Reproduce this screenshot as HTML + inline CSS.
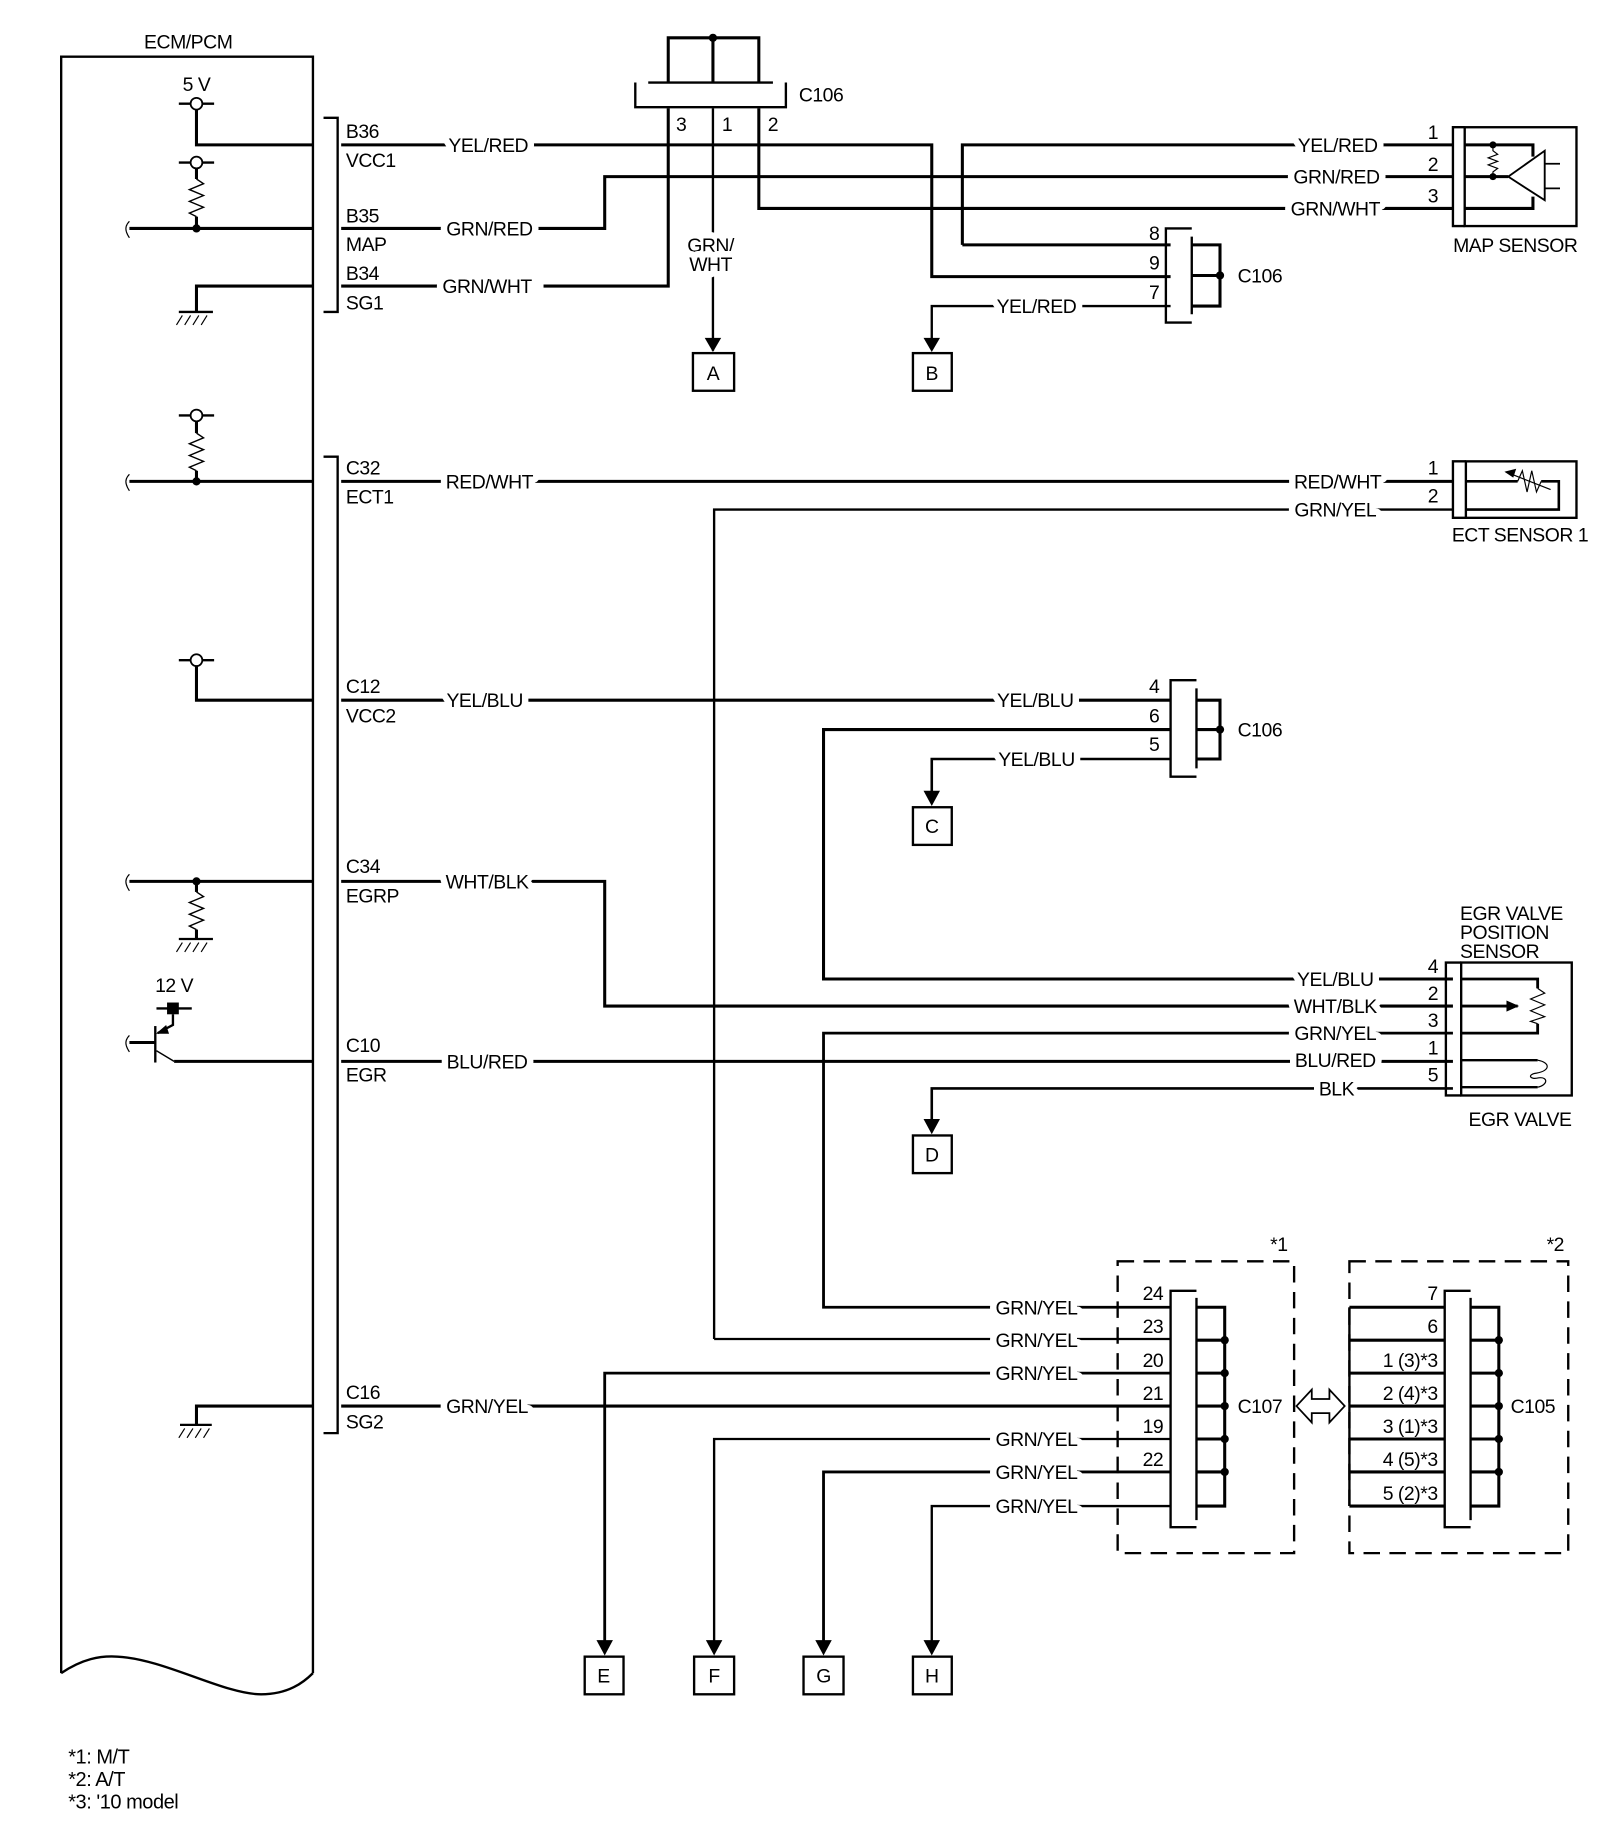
<!DOCTYPE html>
<html><head><meta charset="utf-8"><style>
html,body{margin:0;padding:0;background:#fff;}
svg{display:block;}
text{font-family:"Liberation Sans",Arial,sans-serif;font-size:16.5px;fill:#000;letter-spacing:-0.4px;}
.w{paint-order:stroke;stroke:#fff;stroke-width:11px;stroke-linejoin:round;}
.m{text-anchor:middle;}
.e{text-anchor:end;}
</style></head><body>
<svg width="1600" height="1838" viewBox="0 0 1360 1562" xmlns="http://www.w3.org/2000/svg">
<g fill="none" stroke="#000" stroke-width="2.6">
<path d="M52 1422 V48 H266 V1422" stroke-width="2"/>
<path d="M52 1422 C70 1410 85 1407 100 1408 C140 1410 190 1440 222 1440 C245 1440 258 1430 266 1422" stroke-width="2"/>
<path d="M275 100 H287 V265 H275" stroke-width="2"/>
<path d="M275 388 H287 V1218 H275" stroke-width="2"/>

<path d="M152 88 H162 M172 88 H182" stroke-width="2"/>
<path d="M167 93 V123 H266"/>
<path d="M152 138 H162 M172 138 H182" stroke-width="2"/>
<path d="M167 143 V152"/>
<polyline points="167,152 173,156 161,161 173,166 161,171 173,176 161,181 167,184" stroke-width="1.2"/>
<path d="M167 184 V194"/>
<path d="M110 194 H266"/>
<path d="M110 188 C106 192 106 196 110 202" stroke-width="1"/>
<path d="M167 265 V243 H266"/>
<path d="M152 265 H181" stroke-width="2"/>
<path d="M155 268 L150 276 M162 268 L157 276 M169 268 L164 276 M176 268 L171 276" stroke-width="1"/>

<path d="M568 70 V32 H645 V70 M606 32 V70" stroke-width="2.6"/>
<path d="M551 70 H657" stroke-width="2"/>
<path d="M540 70 V91 H668 V70" stroke-width="2"/>
<path d="M568 92 V243 H462 M372 243 H290"/>
<path d="M606 92 V298" stroke-width="2"/>
<path d="M645 92 V177 H1235"/>
<path d="M290 123 H792 V235 H995"/>
<path d="M818 208 V123 H1235"/>
<path d="M818 208 H995"/>
<path d="M290 194 H514 V150 H1235"/>
<path d="M995 260 H792 V290" stroke-width="2"/>
<path d="M1013 194 H991 V274 H1013" stroke-width="2"/>
<path d="M1013 201 V267" stroke-width="2"/>
<path d="M1013 208 H1037 V260 H1013 M1013 234 H1037"/>
<rect x="589" y="300" width="35" height="32" stroke-width="2"/>
<rect x="776" y="300" width="33" height="32" stroke-width="2"/>

<path d="M1245 108 H1235 V192 H1245" stroke-width="2"/>
<rect x="1245" y="108" width="95" height="84" stroke-width="2"/>
<path d="M1245 123 H1303 V133 M1245 177 H1303 V167 M1245 150 H1282"/>
<path d="M1282 150 L1313 128 V170 Z" stroke-width="1.6"/>
<path d="M1313 139 H1326 M1313 160 H1326" stroke-width="1.5"/>
<polyline points="1269,123 1269,128 1273,131 1265,134 1273,137 1265,140 1273,143 1269,146 1269,150" stroke-width="1"/>

<path d="M152 353 H162 M172 353 H182" stroke-width="2"/>
<path d="M167 358 V368"/>
<polyline points="167,368 173,372 161,377 173,382 161,387 173,392 161,397 167,400" stroke-width="1.2"/>
<path d="M167 400 V409"/>
<path d="M110 409 H266 M290 409 H1235"/>
<path d="M110 403 C106 407 106 411 110 417" stroke-width="1"/>
<path d="M607 1138 V433 H1235" stroke-width="2"/>
<path d="M1246 392 H1235 V440 H1246" stroke-width="2"/>
<rect x="1246" y="392" width="94" height="48" stroke-width="2"/>
<path d="M1246 409 H1290 M1310 409 H1325 V433 H1246" stroke-width="2.2"/>
<polyline points="1290,409 1294,400 1298,418 1302,400 1306,418 1310,409" stroke-width="1"/>
<path d="M1280 401 L1318 416" stroke-width="1"/>
<path d="M1280 401 L1288 399 L1286 405 Z" fill="#000" stroke-width="1"/>

<path d="M152 561 H162 M172 561 H182" stroke-width="2"/>
<path d="M167 566 V595 H266 M290 595 H995"/>
<path d="M995 620 H700 V832 H1235" stroke-width="2.6"/>
<path d="M995 645 H792 V677" stroke-width="2.2"/>
<path d="M1017 578 H995 V660 H1017" stroke-width="2"/>
<path d="M1017 585 V653" stroke-width="2"/>
<path d="M1017 595 H1037 V645 H1017 M1017 620 H1037"/>
<rect x="776" y="686" width="33" height="32" stroke-width="2"/>

<path d="M110 749 H266 M290 749 H514 V855 H1235"/>
<path d="M110 743 C106 747 106 751 110 757" stroke-width="1"/>
<path d="M167 749 V758"/>
<polyline points="167,758 173,762 161,767 173,772 161,777 173,782 161,787 167,790" stroke-width="1.2"/>
<path d="M167 790 V798"/>
<path d="M152 798 H181" stroke-width="2"/>
<path d="M155 801 L150 809 M162 801 L157 809 M169 801 L164 809 M176 801 L171 809" stroke-width="1"/>

<path d="M133 857 H163" stroke-width="2"/>
<rect x="142" y="852" width="10" height="10" fill="#000" stroke="none"/>
<path d="M147 862 V871 L134 878" stroke-width="2"/>
<path d="M134 878 L141 872 L143 878 Z" fill="#000" stroke-width="1"/>
<path d="M132 872 V903" stroke-width="2"/>
<path d="M110 886 H132"/>
<path d="M110 880 C106 884 106 888 110 894" stroke-width="1"/>
<path d="M133 893 L148 902" stroke-width="1.2"/>
<path d="M148 902 H266 M290 902 H1235"/>
<path d="M1235 878 H700 V1111 H995" stroke-width="2.4"/>
<path d="M1235 925 H792 V957" stroke-width="2.2"/>
<rect x="776" y="965" width="33" height="32" stroke-width="2"/>
<path d="M1242 818 H1229 V931 H1242" stroke-width="2"/>
<rect x="1242" y="818" width="94" height="113" stroke-width="2"/>
<path d="M1242 832 H1307 V840 M1242 878 H1307 V870 M1242 855 H1290" stroke-width="2.4"/>
<polyline points="1307,840 1313,844 1301,849 1313,854 1301,859 1313,864 1301,868 1307,870" stroke-width="1"/>
<path d="M1290 855 L1281 851 V859 Z" fill="#000" stroke-width="1"/>
<path d="M1242 901 H1307 M1242 924 H1307" stroke-width="2"/>
<path d="M1307 901 C1318 903 1318 910 1306 912 C1298 913 1300 918 1308 916 C1316 915 1316 922 1307 924" stroke-width="1"/>

<path d="M950 1072 H1100 V1320 H950 Z" stroke-width="2" stroke-dasharray="14,8"/>
<path d="M1147 1072 H1333 V1320 H1147 Z" stroke-width="2" stroke-dasharray="14,8"/>
<path d="M1017 1097 H995 V1298 H1017" stroke-width="2"/>
<path d="M1017 1103 V1292" stroke-width="2"/>
<path d="M1017 1111 H1041 V1280 H1017 M1017 1139 H1041 M1017 1167 H1041 M1017 1195 H1041 M1017 1223 H1041 M1017 1251 H1041"/>
<path d="M607 1138 H995" stroke-width="2"/>
<path d="M514 1399 V1167 H995" stroke-width="2.4"/>
<path d="M290 1195 H995"/>
<path d="M167 1212 V1195 H266"/>
<path d="M153 1211 H180" stroke-width="2"/>
<path d="M157 1214 L152 1222 M164 1214 L159 1222 M171 1214 L166 1222 M178 1214 L173 1222" stroke-width="1"/>
<path d="M607 1399 V1223 H995" stroke-width="2"/>
<path d="M700 1399 V1251 H995" stroke-width="2.4"/>
<path d="M792 1399 V1280 H995" stroke-width="2"/>
<rect x="497" y="1408" width="33" height="32" stroke-width="2"/>
<rect x="590" y="1408" width="34" height="32" stroke-width="2"/>
<rect x="683" y="1408" width="34" height="32" stroke-width="2"/>
<rect x="776" y="1408" width="33" height="32" stroke-width="2"/>
<path d="M1147 1111 V1280" stroke-width="2"/>
<path d="M1147 1111 H1228 M1147 1139 H1228 M1147 1167 H1228 M1147 1195 H1228 M1147 1223 H1228 M1147 1251 H1228 M1147 1280 H1228"/>
<path d="M1250 1097 H1228 V1298 H1250" stroke-width="2"/>
<path d="M1250 1103 V1292" stroke-width="2"/>
<path d="M1250 1111 H1274 V1280 H1250 M1250 1139 H1274 M1250 1167 H1274 M1250 1195 H1274 M1250 1223 H1274 M1250 1251 H1274"/>
<path d="M1102 1195 L1115 1181 V1189 H1130 V1181 L1143 1195 L1130 1209 V1201 H1115 V1209 Z" stroke-width="1.5"/>
</g>
<g fill="#000">
<circle cx="167" cy="88" r="5" fill="#fff" stroke="#000" stroke-width="1.5"/>
<circle cx="167" cy="138" r="5" fill="#fff" stroke="#000" stroke-width="1.5"/>
<circle cx="167" cy="353" r="5" fill="#fff" stroke="#000" stroke-width="1.5"/>
<circle cx="167" cy="561" r="5" fill="#fff" stroke="#000" stroke-width="1.5"/>
<circle cx="167" cy="194" r="3.5"/><circle cx="167" cy="409" r="3.5"/><circle cx="167" cy="749" r="3.5"/>
<circle cx="606" cy="32" r="3.5"/>
<circle cx="1037" cy="234" r="3.5"/><circle cx="1037" cy="620" r="3.5"/>
<circle cx="1269" cy="123" r="3"/><circle cx="1269" cy="150" r="3"/>
<circle cx="1041" cy="1139" r="3.5"/><circle cx="1041" cy="1167" r="3.5"/><circle cx="1041" cy="1195" r="3.5"/><circle cx="1041" cy="1223" r="3.5"/><circle cx="1041" cy="1251" r="3.5"/>
<circle cx="1274" cy="1139" r="3.5"/><circle cx="1274" cy="1167" r="3.5"/><circle cx="1274" cy="1195" r="3.5"/><circle cx="1274" cy="1223" r="3.5"/><circle cx="1274" cy="1251" r="3.5"/>
<path d="M599 287 H613 L606 299 Z"/>
<path d="M785 287 H799 L792 299 Z"/>
<path d="M785 672 H799 L792 685 Z"/>
<path d="M785 951 H799 L792 964 Z"/>
<path d="M507 1394 H521 L514 1407 Z"/>
<path d="M600 1394 H614 L607 1407 Z"/>
<path d="M693 1394 H707 L700 1407 Z"/>
<path d="M785 1394 H799 L792 1407 Z"/>
</g>
<text x="160" y="41" class="m">ECM/PCM</text>
<text x="167" y="77" class="m">5 V</text>
<text x="294" y="117">B36</text><text x="294" y="142">VCC1</text>
<text x="294" y="189">B35</text><text x="294" y="213">MAP</text>
<text x="294" y="238">B34</text><text x="294" y="263">SG1</text>
<text x="415" y="129" class="m w">YEL/RED</text>
<text x="416" y="200" class="m w">GRN/RED</text>
<text x="414" y="249" class="m w">GRN/WHT</text>
<text x="679" y="86">C106</text>
<text x="579" y="111" class="m">3</text><text x="618" y="111" class="m">1</text><text x="657" y="111" class="m">2</text>
<text x="604" y="214" class="m w">GRN/</text><text x="604" y="230" class="m w">WHT</text>
<text x="606" y="323" class="m">A</text>
<text x="792" y="323" class="m">B</text>
<text x="1137" y="129" class="m w">YEL/RED</text>
<text x="1136" y="156" class="m w">GRN/RED</text>
<text x="1135" y="183" class="m w">GRN/WHT</text>
<text x="1218" y="118" class="m">1</text><text x="1218" y="145" class="m">2</text><text x="1218" y="172" class="m">3</text>
<text x="1288" y="214" class="m">MAP SENSOR</text>
<text x="981" y="204" class="m">8</text><text x="981" y="229" class="m">9</text><text x="981" y="254" class="m">7</text>
<text x="1052" y="240">C106</text>
<text x="881" y="266" class="m w">YEL/RED</text>

<text x="294" y="403">C32</text><text x="294" y="428">ECT1</text>
<text x="416" y="415" class="m w">RED/WHT</text>
<text x="1137" y="415" class="m w">RED/WHT</text>
<text x="1135" y="439" class="m w">GRN/YEL</text>
<text x="1218" y="403" class="m">1</text><text x="1218" y="427" class="m">2</text>
<text x="1292" y="460" class="m">ECT SENSOR 1</text>

<text x="294" y="589">C12</text><text x="294" y="614">VCC2</text>
<text x="412" y="601" class="m w">YEL/BLU</text>
<text x="880" y="601" class="m w">YEL/BLU</text>
<text x="881" y="651" class="m w">YEL/BLU</text>
<text x="981" y="589" class="m">4</text><text x="981" y="614" class="m">6</text><text x="981" y="638" class="m">5</text>
<text x="1052" y="626">C106</text>
<text x="792" y="708" class="m">C</text>

<text x="294" y="742">C34</text><text x="294" y="767">EGRP</text>
<text x="414" y="755" class="m w">WHT/BLK</text>
<text x="148" y="843" class="m">12 V</text>
<text x="294" y="894">C10</text><text x="294" y="919">EGR</text>
<text x="414" y="908" class="m w">BLU/RED</text>
<text x="1241" y="782">EGR VALVE</text>
<text x="1241" y="798">POSITION</text>
<text x="1241" y="814">SENSOR</text>
<text x="1135" y="838" class="m w">YEL/BLU</text>
<text x="1135" y="861" class="m w">WHT/BLK</text>
<text x="1135" y="884" class="m w">GRN/YEL</text>
<text x="1135" y="907" class="m w">BLU/RED</text>
<text x="1136" y="931" class="m w">BLK</text>
<text x="1218" y="827" class="m">4</text><text x="1218" y="850" class="m">2</text><text x="1218" y="873" class="m">3</text><text x="1218" y="896" class="m">1</text><text x="1218" y="919" class="m">5</text>
<text x="1292" y="957" class="m">EGR VALVE</text>
<text x="792" y="987" class="m">D</text>

<text x="1087" y="1063" class="m">*1</text>
<text x="1322" y="1063" class="m">*2</text>
<text x="881" y="1117" class="m w">GRN/YEL</text>
<text x="881" y="1145" class="m w">GRN/YEL</text>
<text x="881" y="1173" class="m w">GRN/YEL</text>
<text x="881" y="1229" class="m w">GRN/YEL</text>
<text x="881" y="1257" class="m w">GRN/YEL</text>
<text x="881" y="1286" class="m w">GRN/YEL</text>
<text x="294" y="1189">C16</text><text x="294" y="1214">SG2</text>
<text x="414" y="1201" class="m w">GRN/YEL</text>
<text x="980" y="1105" class="m">24</text><text x="980" y="1133" class="m">23</text><text x="980" y="1162" class="m">20</text><text x="980" y="1190" class="m">21</text><text x="980" y="1218" class="m">19</text><text x="980" y="1246" class="m">22</text>
<text x="1052" y="1201">C107</text>
<text x="1222" y="1105" class="e">7</text><text x="1222" y="1133" class="e">6</text><text x="1222" y="1162" class="e">1 (3)*3</text><text x="1222" y="1190" class="e">2 (4)*3</text><text x="1222" y="1218" class="e">3 (1)*3</text><text x="1222" y="1246" class="e">4 (5)*3</text><text x="1222" y="1275" class="e">5 (2)*3</text>
<text x="1284" y="1201">C105</text>
<text x="513" y="1430" class="m">E</text><text x="607" y="1430" class="m">F</text><text x="700" y="1430" class="m">G</text><text x="792" y="1430" class="m">H</text>
<text x="58" y="1499" style="font-size:17px">*1: M/T</text>
<text x="58" y="1518" style="font-size:17px">*2: A/T</text>
<text x="58" y="1537" style="font-size:17px">*3: '10 model</text>
</svg>
</body></html>
